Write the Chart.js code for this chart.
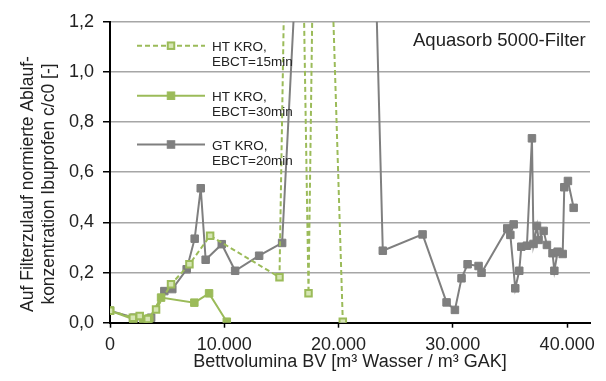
<!DOCTYPE html>
<html>
<head>
<meta charset="utf-8">
<script src="https://cdn.jsdelivr.net/npm/chart.js@4.4.1/dist/chart.umd.min.js"></script>
<style>
  body { margin: 0; background: #fff; }
  #wrap { width: 606px; height: 381px; }
</style>
</head>
<body>
<div id="wrap"><canvas id="chart" width="606" height="381"></canvas></div>
<script>
// HT KRO, EBCT=15min
const ht15X = [0, 2000, 2600, 3300, 4030, 5340, 6950, 8760, 14830, 16100, 17370, 18250, 20370];
const ht15Y = [0.048, 0.02, 0.027, 0.015, 0.053, 0.153, 0.233, 0.347, 0.181, 3.7, 0.117, 3.1, 0.004];

// HT KRO, EBCT=30min
const ht30X = [0, 2040, 2920, 3440, 4470, 7380, 8670, 10220];
const ht30Y = [0.048, 0.014, 0.014, 0.017, 0.1, 0.08, 0.117, 0.004];

// GT KRO, EBCT=20min
const gt20X = [0, 2100, 3600, 4755, 5450, 6710, 7410, 7940, 8370, 9780,
  10950, 13050, 15060, 20900, 23870, 27350, 29450, 30180, 30760, 31290,
  32250, 32510, 34760, 35320, 35030, 35460, 35810, 35990, 36480, 36920,
  37060, 37360, 37500, 37940, 38230, 38720, 38880, 39170, 39610, 39750,
  40070, 40570];
const gt20Y = [0.048, 0.02, 0.02, 0.126, 0.134, 0.213, 0.335, 0.536, 0.251, 0.313,
  0.207, 0.267, 0.318, 5.5, 0.287, 0.352, 0.081, 0.051, 0.177, 0.233,
  0.226, 0.199, 0.376, 0.392, 0.35, 0.137, 0.207, 0.303, 0.307, 0.735,
  0.314, 0.386, 0.33, 0.366, 0.31, 0.277, 0.207, 0.283, 0.274, 0.54,
  0.565, 0.458];

const xTicks = [0, 10000, 20000, 30000, 40000];
const yTicks = [0, 0.2, 0.4, 0.6, 0.8, 1.0, 1.2];

const seriesNames = [['HT KRO,', 'EBCT=15min'], ['HT KRO,', 'EBCT=30min'], ['GT KRO,', 'EBCT=20min']];
const yTitle = ['Auf Filterzulauf normierte Ablauf-', 'konzentration Ibuprofen c/c0 [-]'];
const xTitle = 'Bettvolumina BV [m³ Wasser / m³ GAK]';
const boxLabel = 'Aquasorb 5000-Filter';

const GREEN = '#9bbb59';
const GRAY = '#7f7f7f';
const TEXT = '#222';
const FONT = "'Liberation Sans', Arial, sans-serif";

const pts = (xs, ys) => xs.map((x, i) => ({ x: x, y: ys[i] }));
const thousands = v => String(v).replace(/\B(?=(\d{3})+(?!\d))/g, '.');

// legend + rotated axis title + label box, drawn after the chart
const decor = {
  id: 'decor',
  afterDraw(chart) {
    const ctx = chart.ctx;
    ctx.save();
    ctx.fillStyle = TEXT;

    // y title, two lines
    ctx.font = '17.5px ' + FONT;
    ctx.textAlign = 'center';
    ctx.textBaseline = 'alphabetic';
    [33, 54].forEach((bx, i) => {
      ctx.save();
      ctx.translate(bx, 184);
      ctx.rotate(-Math.PI / 2);
      ctx.fillText(yTitle[i], 0, 0);
      ctx.restore();
    });

    ctx.font = '18.5px ' + FONT;
    ctx.textAlign = 'left';
    ctx.fillText(boxLabel, 413, 46);

    // legend entries
    const rows = [45.7, 95.7, 144.5];
    chart.data.datasets.forEach((ds, i) => {
      const y = rows[i];
      ctx.save();
      ctx.strokeStyle = ds.borderColor;
      ctx.lineWidth = ds.borderWidth;
      ctx.setLineDash(ds.borderDash || []);
      ctx.beginPath();
      ctx.moveTo(137, y);
      ctx.lineTo(205, y);
      ctx.stroke();
      ctx.setLineDash([]);
      const s = ds.pointRadius * Math.SQRT2;
      ctx.fillStyle = ds.pointBackgroundColor;
      ctx.fillRect(171 - s / 2, y - s / 2, s, s);
      ctx.lineWidth = ds.pointBorderWidth;
      ctx.strokeStyle = ds.pointBorderColor;
      ctx.strokeRect(171 - s / 2, y - s / 2, s, s);
      ctx.restore();

      ctx.font = '13.5px ' + FONT;
      ctx.fillStyle = TEXT;
      ctx.textAlign = 'left';
      ctx.fillText(seriesNames[i][0], 212, y + 5.5);
      ctx.fillText(seriesNames[i][1], 212, y + 20.5);
    });
    ctx.restore();
  }
};

new Chart(document.getElementById('chart'), {
  type: 'scatter',
  data: {
    datasets: [
      {
        label: 'HT KRO, EBCT=15min',
        data: pts(ht15X, ht15Y),
        showLine: true,
        borderColor: GREEN,
        borderWidth: 2,
        borderDash: [5, 3],
        pointStyle: 'rect',
        pointRadius: 4.6,
        pointBackgroundColor: '#d6e6b4',
        pointBorderColor: GREEN,
        pointBorderWidth: 2
      },
      {
        label: 'HT KRO, EBCT=30min',
        data: pts(ht30X, ht30Y),
        showLine: true,
        borderColor: GREEN,
        borderWidth: 2,
        pointStyle: 'rect',
        pointRadius: 5.3,
        pointBackgroundColor: GREEN,
        pointBorderColor: GREEN,
        pointBorderWidth: 1
      },
      {
        label: 'GT KRO, EBCT=20min',
        data: pts(gt20X, gt20Y),
        showLine: true,
        borderColor: GRAY,
        borderWidth: 2,
        pointStyle: 'rect',
        pointRadius: 5.3,
        pointBackgroundColor: GRAY,
        pointBorderColor: GRAY,
        pointBorderWidth: 1
      }
    ]
  },
  options: {
    responsive: false,
    animation: false,
    devicePixelRatio: 1,
    layout: { padding: { top: 21.7, right: 16, left: 0, bottom: 0 } },
    plugins: {
      legend: { display: false },
      tooltip: { enabled: false }
    },
    scales: {
      x: {
        type: 'linear',
        min: 0,
        max: 42000,
        afterBuildTicks: s => { s.ticks = xTicks.map(v => ({ value: v })); },
        afterFit: s => { s.height = 58.3; s.paddingRight = 0; s.paddingLeft = 0; },
        ticks: {
          autoSkip: false,
          maxRotation: 0,
          padding: 6.5,
          color: TEXT,
          font: { family: FONT, size: 18 },
          callback: v => thousands(v)
        },
        grid: {
          drawOnChartArea: false,
          tickLength: 5,
          tickColor: '#000',
          tickWidth: 1.5
        },
        border: { color: '#000', width: 2 },
        title: {
          display: true,
          text: xTitle,
          color: TEXT,
          font: { family: FONT, size: 18 },
          padding: { top: 0, bottom: 8 }
        }
      },
      y: {
        min: 0,
        max: 1.2,
        afterBuildTicks: s => { s.ticks = yTicks.map(v => ({ value: v })); },
        afterFit: s => { s.width = 110; },
        ticks: {
          padding: 9,
          color: TEXT,
          font: { family: FONT, size: 18 },
          callback: v => v.toFixed(1).replace('.', ',')
        },
        grid: {
          color: '#a6a6a6',
          lineWidth: 1.5,
          tickLength: 7,
          tickColor: '#000',
          tickWidth: 1.5
        },
        border: { color: '#000', width: 2 }
      }
    }
  },
  plugins: [decor]
});
</script>
</body>
</html>
